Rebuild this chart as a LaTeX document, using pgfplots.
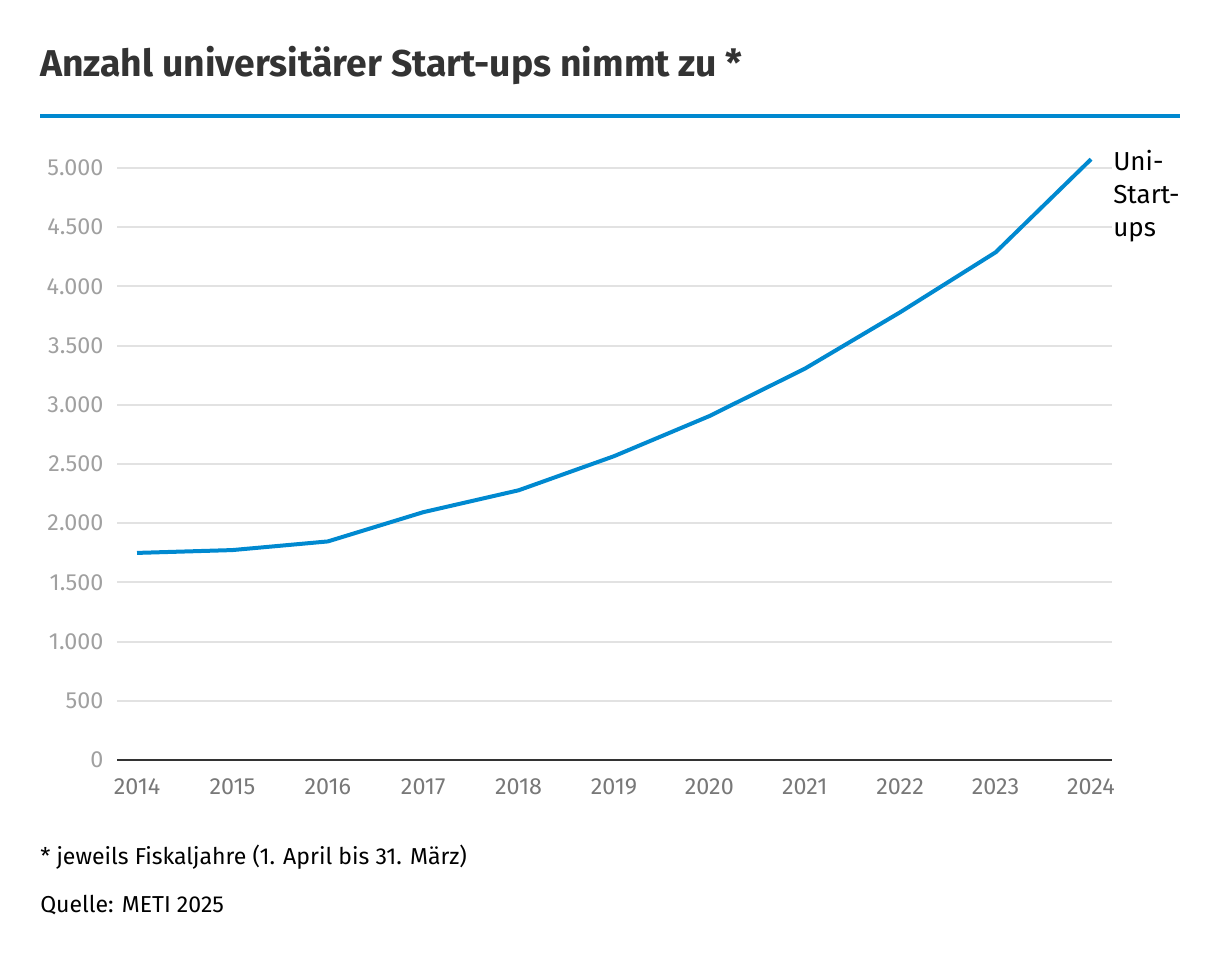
\documentclass[border=0pt]{standalone}
\usepackage{fontspec}
\setmainfont{Fira Sans}
\usepackage{pgfplots}
\pgfplotsset{compat=1.18}
\usepackage{pgfplotstable}

\definecolor{dwblue}{HTML}{0089D0}
\definecolor{titlegray}{HTML}{333333}
\definecolor{ylabgray}{HTML}{A0A0A0}
\definecolor{xlabgray}{HTML}{787878}
\definecolor{gridgray}{HTML}{E2E2E2}

\pgfplotstableread{
jahr  anzahl
2014  1749
2015  1773
2016  1846
2017  2093
2018  2278
2019  2566
2020  2905
2021  3305
2022  3782
2023  4288
2024  5074
}\startups

\begin{document}
\begin{tikzpicture}[x=0.75pt,y=0.75pt]
% page frame 1220 x 960 px, 1 px = 0.75 pt, y measured from the bottom
\path (0,0) rectangle (1220,960);

\node[anchor=base west, inner sep=0pt, text=titlegray, font=\fontsize{28}{32}\selectfont\bfseries]
  at (40,883) {Anzahl universitärer Start-ups nimmt zu *};
\draw[dwblue, line width=3pt] (40,844) -- (1180,844);

\begin{axis}[
    at={(87.75pt,150pt)}, anchor=south west,
    scale only axis,
    width=746.25pt, height=444pt,
    xmin=2013.79, xmax=2024.22,
    ymin=0, ymax=5000,
    clip=false,
    axis x line=bottom, axis y line=left,
    x axis line style={draw=titlegray, line width=1.5pt, -},
    y axis line style={draw=none},
    xtick={2014,...,2024},
    xticklabels={2014,2015,2016,2017,2018,2019,2020,2021,2022,2023,2024},
    ytick={0,500,...,5000},
    yticklabels={0,500,1.000,1.500,2.000,2.500,3.000,3.500,4.000,4.500,5.000},
    major tick length=0pt,
    ymajorgrids,
    grid style={draw=gridgray, line width=1.5pt},
    xticklabel style={text=xlabgray, font=\fontsize{17.5}{20}\selectfont, anchor=north, inner sep=0pt, yshift=-13.5pt},
    yticklabel style={text=ylabgray, font=\fontsize{17.5}{20}\selectfont, anchor=east, inner sep=0pt, xshift=-10pt},
  ]
  \addplot[dwblue, line width=3pt, line join=miter] table[x=jahr, y=anzahl] {\startups};
\end{axis}

% base of a multi-line node is the base of its last line
\node[anchor=base west, inner sep=0pt, align=left, font=\fontsize{19.5}{25}\selectfont]
  at (1113,723) {Uni-\\Start-\\ups};

\node[anchor=base west, inner sep=0pt, font=\fontsize{17.3}{22}\selectfont]
  at (40,95) {* jeweils Fiskaljahre (1. April bis 31. März)};
\node[anchor=base west, inner sep=0pt, font=\fontsize{17.3}{22}\selectfont]
  at (40,48) {Quelle: METI 2025};
\end{tikzpicture}
\end{document}
